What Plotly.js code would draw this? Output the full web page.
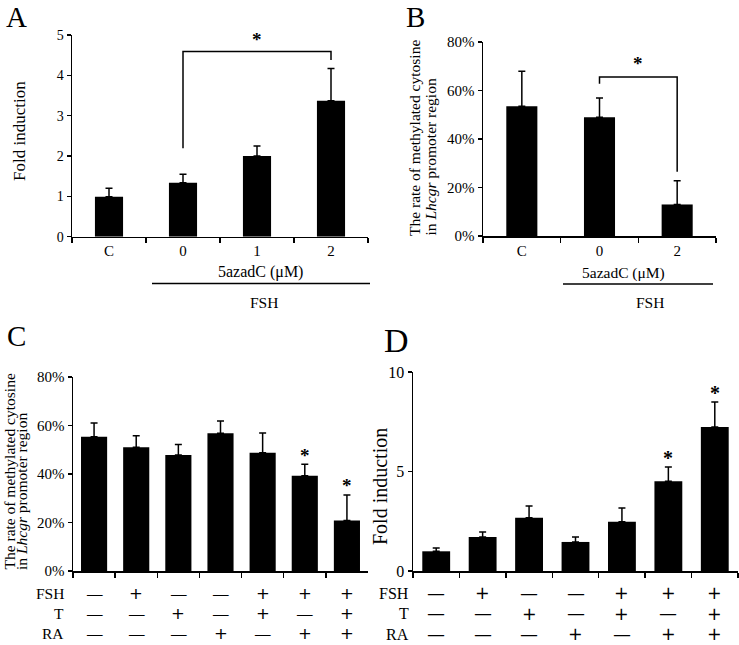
<!DOCTYPE html>
<html><head><meta charset="utf-8">
<script src="https://cdn.plot.ly/plotly-3.0.1.min.js"></script>
<style>html,body{margin:0;padding:0;background:#fff}#chart{width:739px;height:645px}</style>
</head><body><div id="chart"></div>
<script>
// ---- data ----
const catsA = ['C', '0', '1', '2'];
const meanA = [0.99, 1.34, 2.0, 3.37];
const errA  = [0.21, 0.21, 0.25, 0.80];

const catsB = ['C', '0', '2'];
const meanB = [53.5, 49.0, 13.0];
const errB  = [14.4, 7.9, 9.8];

const groups = ['g1', 'g2', 'g3', 'g4', 'g5', 'g6', 'g7'];
const meanC = [55.4, 51.0, 47.8, 56.8, 48.8, 39.3, 20.8];
const errC  = [5.6, 4.8, 4.4, 5.1, 8.1, 4.7, 10.5];
const meanD = [0.99, 1.71, 2.68, 1.46, 2.48, 4.51, 7.24];
const errD  = [0.17, 0.25, 0.59, 0.25, 0.69, 0.72, 1.25];

const rowNames = ['FSH', 'T', 'RA'];
const rowFSH = ['—', '+', '—', '—', '+', '+', '+'];
const rowT   = ['—', '—', '+', '—', '+', '—', '+'];
const rowRA  = ['—', '—', '—', '+', '—', '+', '+'];

const sigC = [5, 6];          // indices with asterisk
const sigCy = [47.7, 35.3];
const sigD = [5, 6];
const sigDy = [5.70, 8.94];

// brackets: [from index, to index, level, left leg bottom, right leg bottom, star y]
const bracketA = [1, 3, 4.59, 2.19, 4.38, 4.89];
const bracketB = [1, 2, 65.6, 62.8, 26.5, 71.0];

// ---- helpers ----
const W = 739, H = 645;
const px = v => v / W;
const py = v => 1 - v / H;
const FONT = '"Liberation Serif", "Times New Roman", Times, serif';
const PLUSFONT = '"DejaVu Sans", sans-serif';

function barTrace(x, y, e, xa, ya, w) {
  return {
    type: 'bar', x: x, y: y, xaxis: xa, yaxis: ya, width: w,
    marker: {color: '#000', line: {color: '#000', width: 0}},
    error_y: {type: 'data', symmetric: false, array: e, arrayminus: e.map(() => 0),
              color: '#000', thickness: 1.5, width: 3.5},
    hoverinfo: 'none', showlegend: false
  };
}

const data = [
  barTrace(catsA, meanA, errA, 'x', 'y', 0.38),
  barTrace(catsB, meanB, errB, 'x2', 'y2', 0.40),
  barTrace(groups, meanC, errC, 'x3', 'y3', 0.62),
  barTrace(groups, meanD, errD, 'x4', 'y4', 0.60)
];

function xax(dom, anchor, n, showLabels, fs) {
  return {
    domain: dom, anchor: anchor, type: 'category', range: [-0.5, n - 0.5],
    showline: true, linecolor: '#000', linewidth: 1.5, mirror: false,
    ticks: 'outside', tickson: 'boundaries', ticklen: 5, tickwidth: 1.5, tickcolor: '#000',
    showticklabels: showLabels, tickfont: {family: FONT, size: fs, color: '#000'},
    showgrid: false, zeroline: false, fixedrange: true
  };
}
function yax(dom, anchor, range, dtick, suffix, fs) {
  return {
    domain: dom, anchor: anchor, range: range, dtick: dtick, ticksuffix: suffix,
    showline: true, linecolor: '#000', linewidth: 1.5,
    ticks: 'outside', ticklen: 4, tickwidth: 1.5, tickcolor: '#000',
    tickfont: {family: FONT, size: fs, color: '#000'},
    showgrid: false, zeroline: false, fixedrange: true
  };
}

const annotations = [];
const shapes = [];

function ann(o) {
  annotations.push(Object.assign({showarrow: false, font: {family: FONT, size: 15, color: '#000'}}, o));
}
const f = (size, fam) => ({family: fam || FONT, size: size, color: '#000'});

// panel letters
ann({text: 'A', xref: 'paper', yref: 'paper', x: px(16), y: py(17), xanchor: 'center', yanchor: 'middle', font: f(29)});
ann({text: 'B', xref: 'paper', yref: 'paper', x: px(415), y: py(17), xanchor: 'center', yanchor: 'middle', font: f(29)});
ann({text: 'C', xref: 'paper', yref: 'paper', x: px(16), y: py(336), xanchor: 'center', yanchor: 'middle', font: f(29)});
ann({text: 'D', xref: 'paper', yref: 'paper', x: px(396), y: py(340), xanchor: 'center', yanchor: 'middle', font: f(34)});

// y-axis titles
ann({text: 'Fold induction', xref: 'paper', yref: 'paper', x: px(19), y: py(131), textangle: -90, xanchor: 'center', yanchor: 'middle', font: f(17)});
ann({text: 'The rate of methylated cytosine', xref: 'paper', yref: 'paper', x: px(414), y: py(238), textangle: -90, xanchor: 'center', yanchor: 'bottom', font: f(15.5)});
ann({text: 'in <i>Lhcgr</i> promoter region', xref: 'paper', yref: 'paper', x: px(430), y: py(238), textangle: -90, xanchor: 'center', yanchor: 'bottom', font: f(15.5)});
ann({text: 'The rate of methylated cytosine', xref: 'paper', yref: 'paper', x: px(8.5), y: py(572), textangle: -90, xanchor: 'center', yanchor: 'bottom', font: f(15.5)});
ann({text: 'in <i>Lhcgr</i> promoter region', xref: 'paper', yref: 'paper', x: px(21.5), y: py(572), textangle: -90, xanchor: 'center', yanchor: 'bottom', font: f(15.5)});
ann({text: 'Fold induction', xref: 'paper', yref: 'paper', x: px(380), y: py(486), textangle: -90, xanchor: 'center', yanchor: 'middle', font: f(20)});

// treatment labels under A and B
ann({text: '5azadC (μM)', xref: 'paper', yref: 'paper', x: px(260), y: py(272), xanchor: 'center', yanchor: 'middle', font: f(16)});
ann({text: 'FSH', xref: 'paper', yref: 'paper', x: px(264), y: py(302), xanchor: 'center', yanchor: 'middle', font: f(15.5)});
shapes.push({type: 'line', xref: 'paper', yref: 'paper', x0: px(152), x1: px(370), y0: py(283.5), y1: py(283.5), line: {color: '#000', width: 1.5}});
ann({text: '5azadC (μM)', xref: 'paper', yref: 'paper', x: px(623), y: py(273), xanchor: 'center', yanchor: 'middle', font: f(15.5)});
ann({text: 'FSH', xref: 'paper', yref: 'paper', x: px(650), y: py(302), xanchor: 'center', yanchor: 'middle', font: f(15.5)});
shapes.push({type: 'line', xref: 'paper', yref: 'paper', x0: px(563), x1: px(713), y0: py(284), y1: py(284), line: {color: '#000', width: 1.5}});

// brackets
function bracket(b, xa, ya) {
  const [i0, i1, lvl, l0, l1, sy] = b;
  shapes.push({type: 'path', xref: xa, yref: ya,
    path: `M ${i0} ${l0} L ${i0} ${lvl} L ${i1} ${lvl} L ${i1} ${l1}`,
    line: {color: '#000', width: 1.5}});
  ann({text: '<b>*</b>', xref: xa, yref: ya, x: (i0 + i1) / 2, y: sy, xanchor: 'center', yanchor: 'middle', font: f(19)});
}
bracket(bracketA, 'x', 'y');
bracket(bracketB, 'x2', 'y2');

// significance stars C, D
sigC.forEach((i, k) => ann({text: '<b>*</b>', xref: 'x3', yref: 'y3', x: i, y: sigCy[k], xanchor: 'center', yanchor: 'middle', font: f(19)}));
sigD.forEach((i, k) => ann({text: '<b>*</b>', xref: 'x4', yref: 'y4', x: i, y: sigDy[k], xanchor: 'center', yanchor: 'middle', font: f(20)}));

// treatment rows C, D
const rows = [rowFSH, rowT, rowRA];
const rowYC = [593, 613.5, 633.5];
const rowYD = [593, 613.5, 634];
rows.forEach((r, j) => {
  ann({text: rowNames[j], xref: 'paper', yref: 'paper', x: px(66), y: py(rowYC[j]), xanchor: 'right', yanchor: 'middle', font: f(15.5)});
  ann({text: rowNames[j], xref: 'paper', yref: 'paper', x: px(411), y: py(rowYD[j]), xanchor: 'right', yanchor: 'middle', font: f(16)});
  r.forEach((s, i) => {
    const isPlus = s === '+';
    const txt = isPlus ? s : '<b>' + s + '</b>';
    ann({text: txt, xref: 'x3', yref: 'paper', x: i, y: py(rowYC[j]), xanchor: 'center', yanchor: 'middle',
         font: isPlus ? f(16.5, PLUSFONT) : f(15.5)});
    ann({text: txt, xref: 'x4', yref: 'paper', x: i, y: py(rowYD[j]), xanchor: 'center', yanchor: 'middle',
         font: isPlus ? f(17.5, PLUSFONT) : f(16)});
  });
});

const layout = {
  width: W, height: H, margin: {l: 0, r: 0, t: 0, b: 0},
  paper_bgcolor: '#fff', plot_bgcolor: '#fff', showlegend: false,
  font: {family: FONT, color: '#000'},
  xaxis:  xax([px(72), px(368)], 'y', 4, true, 15),
  yaxis:  yax([py(236.7), py(35)], 'x', [0, 5], 1, '', 14),
  xaxis2: xax([px(483), px(716)], 'y2', 3, true, 15),
  yaxis2: yax([py(236), py(42)], 'x2', [0, 80], 20, '%', 15),
  xaxis3: xax([px(73), px(368)], 'y3', 7, false, 15),
  yaxis3: yax([py(571), py(377)], 'x3', [0, 80], 20, '%', 15),
  xaxis4: xax([px(413), px(738)], 'y4', 7, false, 15),
  yaxis4: yax([py(571), py(372)], 'x4', [0, 10], 5, '', 16),
  annotations: annotations, shapes: shapes
};

Plotly.newPlot('chart', data, layout, {staticPlot: true, displayModeBar: false});
</script>
</body></html>
